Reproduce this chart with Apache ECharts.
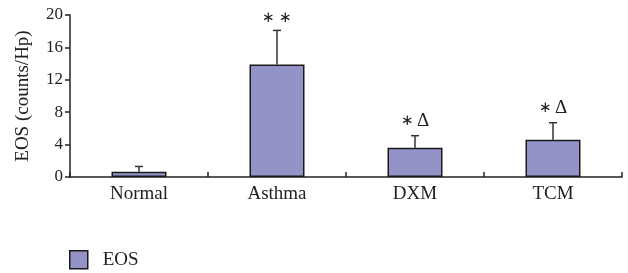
<!DOCTYPE html>
<html><head><meta charset="utf-8">
<script src="https://cdn.jsdelivr.net/npm/echarts@6/dist/echarts.min.js"></script>
<style>html,body{margin:0;padding:0;background:#fff}#c{width:628px;height:273px}</style>
</head><body><div id="c"></div>
<script>
const categories = ['Normal', 'Asthma', 'DXM', 'TCM'];
const means = [0.65, 13.9, 3.6, 4.6];
const errTops = [1.3, 18.1, 5.1, 6.7];
const marks = ['', '{s|∗ ∗}', '{s|∗} {d|Δ}', '{s|∗} {d|Δ}'];
const yTicks = [0, 4, 8, 12, 16, 20];
const seriesName = 'EOS';

const font = 'Liberation Serif, Times New Roman, serif';
const chart = echarts.init(document.getElementById('c'), null, {renderer: 'canvas'});
chart.setOption({
  animation: false,
  grid: {left: 70, right: 6, top: 15, bottom: 96},
  legend: {
    left: 64, top: 245, itemWidth: 18, itemHeight: 18, itemGap: 10,
    textStyle: {fontFamily: font, fontSize: 19, color: '#222', padding: [0, 0, 0, 10]},
    data: [{name: seriesName, icon: 'rect', itemStyle: {borderColor: '#1a1a1a', borderWidth: 1.5}}]
  },
  xAxis: {
    type: 'category', data: categories,
    axisLine: {lineStyle: {color: '#222', width: 1.5}},
    axisTick: {show: true, inside: true, length: 5, alignWithLabel: false, lineStyle: {color: '#222', width: 1.5}},
    axisLabel: {fontFamily: font, fontSize: 19, color: '#222', margin: 8}
  },
  yAxis: {
    type: 'value', min: 0, max: 20, interval: 4,
    name: 'EOS (counts/Hp)', nameLocation: 'middle', nameGap: 37,
    nameTextStyle: {fontFamily: font, fontSize: 19, color: '#222'},
    axisLine: {show: true, lineStyle: {color: '#222', width: 1.5}},
    axisTick: {show: true, length: 5, lineStyle: {color: '#222', width: 1.5}},
    axisLabel: {fontFamily: font, fontSize: 17, color: '#222', margin: 7,
      formatter: v => yTicks.includes(v) ? String(v) : ''},
    splitLine: {show: false}
  },
  series: [
    {
      name: seriesName, type: 'bar', data: means, barWidth: 55,
      itemStyle: {color: '#9393c8', borderColor: '#1a1a1a', borderWidth: 1.5}
    },
    {
      type: 'custom', name: 'err', silent: true, z: 5,
      data: categories.map((c, i) => [i, means[i], errTops[i]]),
      renderItem: function (params, api) {
        const x = api.coord([api.value(0), 0])[0];
        const yb = api.coord([api.value(0), api.value(1)])[1];
        const yt = api.coord([api.value(0), api.value(2)])[1];
        const half = 4;
        const st = {stroke: '#333', lineWidth: 1.5};
        const children = [
          {type: 'line', shape: {x1: x, y1: yb, x2: x, y2: yt}, style: st},
          {type: 'line', shape: {x1: x - half, y1: yt, x2: x + half, y2: yt}, style: st}
        ];
        const m = marks[params.dataIndex];
        if (m) {
          children.push({type: 'text', x: x, y: yt - 5,
            style: {text: m, fill: '#222', align: 'center', verticalAlign: 'bottom',
              rich: {
                s: {fontFamily: font, fontSize: 15, fill: '#222', color: '#222'},
                d: {fontFamily: font, fontSize: 19, fill: '#222', color: '#222'}
              }}});
        }
        return {type: 'group', children: children};
      }
    }
  ]
});
</script></body></html>
